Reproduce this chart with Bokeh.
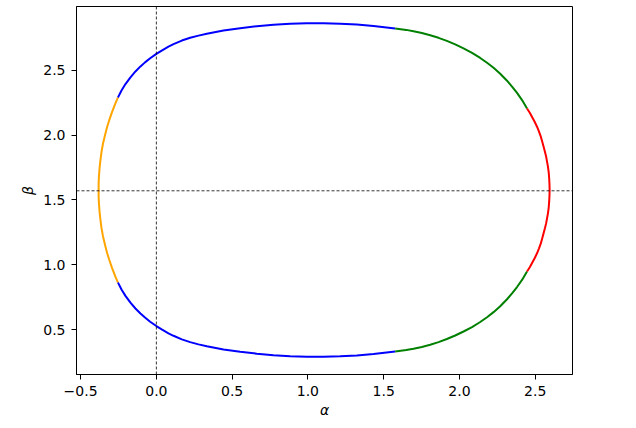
from bokeh.plotting import figure
from bokeh.models import Span, FixedTicker
from bokeh.embed import file_html
from bokeh.resources import INLINE

# ---- data ----
top_blue_alpha = [-0.254, -0.230, -0.204, -0.171, -0.138, -0.105, -0.075, -0.041, 0.000, 0.038,
                  0.080, 0.113, 0.168, 0.223, 0.278, 0.333, 0.443, 0.553, 0.663, 0.773,
                  0.883, 0.993, 1.103, 1.213, 1.323, 1.433, 1.576]
top_blue_beta = [2.288, 2.343, 2.392, 2.444, 2.489, 2.528, 2.559, 2.591, 2.624, 2.652,
                 2.680, 2.699, 2.727, 2.748, 2.765, 2.779, 2.804, 2.822, 2.837, 2.849,
                 2.857, 2.860, 2.860, 2.857, 2.850, 2.839, 2.820]

top_green_alpha = [1.576, 1.649, 1.697, 1.752, 1.807, 1.862, 1.917, 1.972, 2.027, 2.083,
                   2.137, 2.182, 2.225, 2.269, 2.314, 2.347, 2.380, 2.413, 2.446]
top_green_beta = [2.820, 2.809, 2.799, 2.785, 2.768, 2.748, 2.724, 2.697, 2.666, 2.632,
                  2.593, 2.556, 2.517, 2.472, 2.418, 2.373, 2.324, 2.269, 2.204]

red_alpha = [2.446, 2.465, 2.481, 2.497, 2.512, 2.525, 2.537, 2.546, 2.555, 2.564, 2.572,
             2.578, 2.584, 2.589, 2.592, 2.594, 2.595, 2.594, 2.592, 2.589, 2.584, 2.578,
             2.572, 2.564, 2.555, 2.546, 2.537, 2.525, 2.512, 2.497, 2.481, 2.465, 2.446]
red_beta = [2.204, 2.170, 2.135, 2.100, 2.064, 2.026, 1.987, 1.950, 1.911, 1.872, 1.834,
            1.795, 1.757, 1.712, 1.669, 1.622, 1.577, 1.532, 1.485, 1.442, 1.397, 1.359,
            1.320, 1.282, 1.243, 1.204, 1.166, 1.128, 1.090, 1.054, 1.019, 0.984, 0.950]

bottom_green_alpha = [2.446, 2.413, 2.380, 2.347, 2.314, 2.269, 2.225, 2.182, 2.137, 2.083,
                      2.027, 1.972, 1.917, 1.862, 1.807, 1.752, 1.697, 1.649, 1.576]
bottom_green_beta = [0.950, 0.885, 0.830, 0.781, 0.736, 0.682, 0.637, 0.598, 0.561, 0.522,
                     0.488, 0.457, 0.430, 0.406, 0.386, 0.369, 0.355, 0.345, 0.334]

bottom_blue_alpha = [1.576, 1.433, 1.323, 1.213, 1.103, 0.993, 0.883, 0.773, 0.663, 0.553,
                     0.443, 0.333, 0.278, 0.223, 0.168, 0.113, 0.080, 0.038, 0.000, -0.041,
                     -0.075, -0.105, -0.138, -0.171, -0.204, -0.230, -0.254]
bottom_blue_beta = [0.334, 0.315, 0.304, 0.297, 0.294, 0.294, 0.297, 0.305, 0.317, 0.332,
                    0.350, 0.375, 0.389, 0.406, 0.427, 0.455, 0.474, 0.502, 0.530, 0.563,
                    0.595, 0.626, 0.665, 0.710, 0.762, 0.811, 0.866]

orange_alpha = [-0.254, -0.271, -0.292, -0.311, -0.325, -0.339, -0.352, -0.362, -0.369, -0.375,
                -0.379, -0.381, -0.381, -0.381, -0.379, -0.375, -0.369, -0.362, -0.352, -0.339,
                -0.325, -0.311, -0.292, -0.271, -0.254]
orange_beta = [2.288, 2.242, 2.178, 2.114, 2.062, 1.999, 1.935, 1.871, 1.807, 1.743,
               1.679, 1.628, 1.577, 1.526, 1.475, 1.411, 1.347, 1.283, 1.219, 1.155,
               1.092, 1.040, 0.976, 0.912, 0.866]

x_ticks = [-0.5, 0.0, 0.5, 1.0, 1.5, 2.0, 2.5]
x_tick_labels = ["\u22120.5", "0.0", "0.5", "1.0", "1.5", "2.0", "2.5"]
y_ticks = [0.5, 1.0, 1.5, 2.0, 2.5]
y_tick_labels = ["0.5", "1.0", "1.5", "2.0", "2.5"]
vline_alpha = 0.0
hline_beta = 1.5708

x_range = (-0.527, 2.746)
y_range = (0.157, 2.989)

FONT = "DejaVu Sans"

p = figure(width=620, height=420, output_backend="svg", toolbar_location=None,
           x_range=x_range, y_range=y_range,
           min_border_left=76, min_border_right=48, min_border_top=6, min_border_bottom=45)
p.background_fill_color = "white"
p.border_fill_color = "white"
p.outline_line_color = "black"
p.outline_line_width = 1
p.grid.visible = False

segments = [
    (top_blue_alpha, top_blue_beta, "#0000ff"),
    (bottom_blue_alpha, bottom_blue_beta, "#0000ff"),
    (orange_alpha, orange_beta, "#ffa500"),
    (top_green_alpha, top_green_beta, "#008000"),
    (bottom_green_alpha, bottom_green_beta, "#008000"),
    (red_alpha, red_beta, "#ff0000"),
]
for xs, ys, c in segments:
    p.line(xs, ys, line_color=c, line_width=2, line_join="round")

p.add_layout(Span(location=vline_alpha, dimension="height", line_color="black",
                  line_width=0.8, line_dash="3 2"))
p.add_layout(Span(location=hline_beta, dimension="width", line_color="black",
                  line_width=0.8, line_dash="3 2"))

p.xaxis.ticker = FixedTicker(ticks=x_ticks)
p.xaxis.major_label_overrides = {t: l for t, l in zip(x_ticks, x_tick_labels)}
p.yaxis.ticker = FixedTicker(ticks=y_ticks)
p.yaxis.major_label_overrides = {t: l for t, l in zip(y_ticks, y_tick_labels)}

for ax in (p.xaxis[0], p.yaxis[0]):
    ax.axis_line_color = "black"
    ax.axis_line_width = 1
    ax.major_tick_in = 0
    ax.major_tick_out = 5
    ax.major_tick_line_color = "black"
    ax.minor_tick_line_color = None
    ax.major_label_text_font = FONT
    ax.major_label_text_font_size = "14px"
    ax.major_label_text_color = "black"
    ax.axis_label_text_font = FONT
    ax.axis_label_text_font_size = "14px"
    ax.axis_label_text_font_style = "italic"
    ax.axis_label_text_color = "black"

p.xaxis.axis_label = "\u03b1"
p.yaxis.axis_label = "\u03b2"
p.xaxis.major_label_standoff = 6
p.xaxis.axis_label_standoff = 3
p.yaxis.major_label_standoff = 6
p.yaxis.axis_label_standoff = 4

open("out.html", "w").write(file_html(p, INLINE))
